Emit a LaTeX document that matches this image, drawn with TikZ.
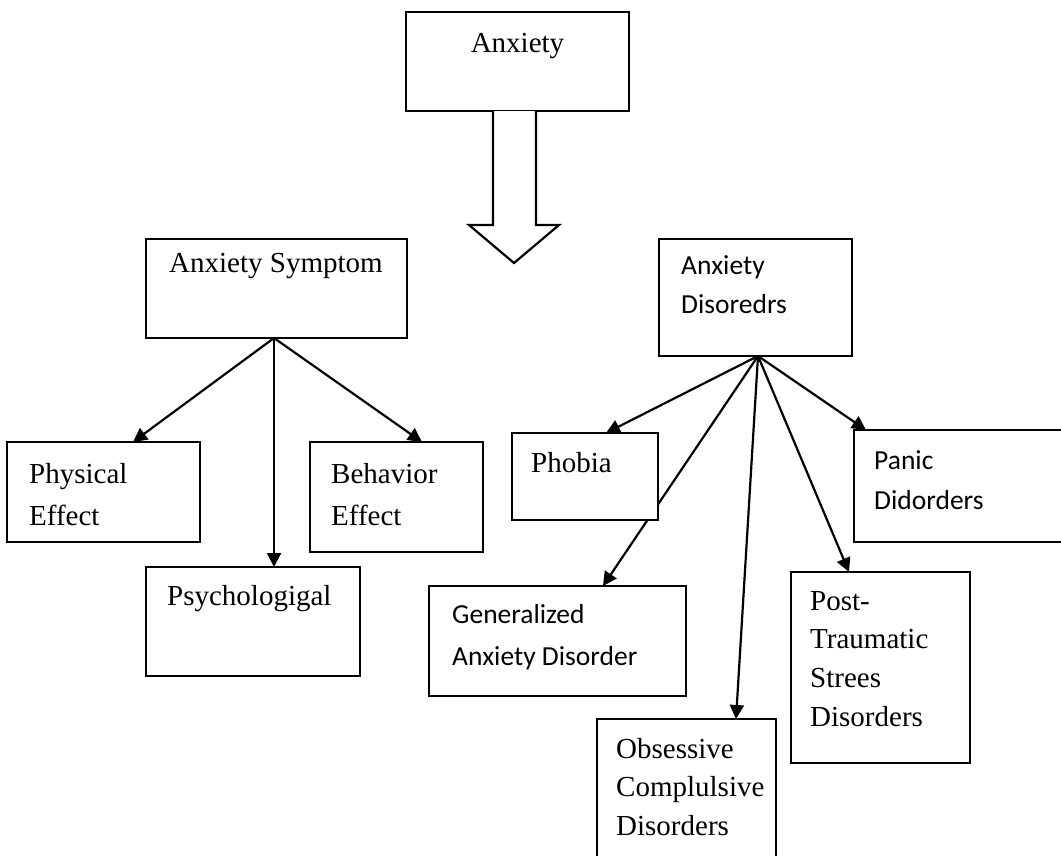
\documentclass[tikz,border=0pt]{standalone}
\usepackage{fontspec}
\setmainfont{Liberation Serif}
\newfontfamily\sansf{Carlito}
\usetikzlibrary{arrows.meta}
\pgfdeclarelayer{bg}
\pgfsetlayers{bg,main}
\newcommand\mlines[2]{\vtop{\baselineskip=#1pt\relax #2}}
\tikzset{
  box/.style={draw, fill=white, line width=2.2pt, inner sep=0pt, outer sep=0pt, anchor=north west},
  txt/.style={inner sep=0pt, anchor=base west, font=\fontsize{29}{42}\selectfont},
  stxt/.style={inner sep=0pt, anchor=base west, font=\sansf\fontsize{27.5}{40}\selectfont},
  arr/.style={line width=2.2pt, -{Triangle[length=14pt,width=14pt]}},
  blockarrow/.style={line width=2.2pt, fill=white, line join=miter}
}
\begin{document}
\begin{tikzpicture}[x=1pt,y=-1pt]
\useasboundingbox (0,0) rectangle (1061,855);
% boxes
\node[box, minimum width=223pt, minimum height=99pt] (anx) at (406,12) {};
\node[box, minimum width=261pt, minimum height=99pt] (sym) at (146,239) {};
\node[box, minimum width=193pt, minimum height=117pt] (dis) at (659,239) {};
\node[box, minimum width=193pt, minimum height=100pt] (phys) at (7,442) {};
\node[box, minimum width=173pt, minimum height=110pt] (beh) at (310,442) {};
\node[box, minimum width=214pt, minimum height=109pt] (psy) at (146,567) {};
\node[box, minimum width=146pt, minimum height=87pt] (phob) at (512,433) {};
\node[box, minimum width=257pt, minimum height=110pt] (gen) at (429,586) {};
\node[box, minimum width=179pt, minimum height=150pt] (obs) at (597,719) {};
\node[box, minimum width=179pt, minimum height=191pt] (ptsd) at (791,572) {};
\node[box, minimum width=230pt, minimum height=112pt] (pan) at (854,430) {};
% texts
\node[txt, anchor=base] (tanx) at (517.5,52) {Anxiety};
\node[txt] (tsym) at (169,272) {Anxiety Symptom};
\node[stxt] (tdis) at (681,274) {\mlines{39}{\hbox{Anxiety}\hbox{Disoredrs}}};
\node[txt] (tphys) at (29,483) {\mlines{42}{\hbox{Physical}\hbox{Effect}}};
\node[txt] (tbeh) at (331,483) {\mlines{42}{\hbox{Behavior}\hbox{Effect}}};
\node[txt] (tpsy) at (167,605) {Psychologigal};
\node[txt] (tphob) at (531,472) {Phobia};
\node[stxt] (tpan) at (874,469) {\mlines{40}{\hbox{Panic}\hbox{Didorders}}};
\node[stxt] (tgen) at (452,623) {\mlines{42}{\hbox{Generalized}\hbox{Anxiety Disorder}}};
\node[txt] (tptsd) at (810,610) {\mlines{38.7}{\hbox{Post-}\hbox{Traumatic}\hbox{Strees}\hbox{Disorders}}};
\node[txt] (tobs) at (616,758) {\mlines{38.5}{\hbox{Obsessive}\hbox{Complulsive}\hbox{Disorders}}};
% block arrow
\draw[blockarrow] ([xshift=-24.5pt]anx.south) -- ++(0,114) -- ++(-24,0) -- ++(45,38) -- ++(45,-38) -- ++(-23,0) -- ++(0,-114);
% connectors (behind the boxes)
\coordinate (symo) at (274,338);
\coordinate (diso) at (758,356);
\begin{pgfonlayer}{bg}
\draw[arr] (symo) -- ([xshift=126pt]phys.north west);
\draw[arr] (symo) -- (symo |- psy.north);
\draw[arr] (symo) -- ([xshift=112pt]beh.north west);
\draw[arr] (diso) -- ([xshift=94pt]phob.north west);
\draw[arr] (diso) -- ([xshift=174pt]gen.north west);
\draw[arr] (diso) -- ([xshift=139pt]obs.north west);
\draw[arr] (diso) -- ([xshift=58pt]ptsd.north west);
\draw[arr] (diso) -- ([xshift=12pt]pan.north west);
\end{pgfonlayer}
\end{tikzpicture}
\end{document}
